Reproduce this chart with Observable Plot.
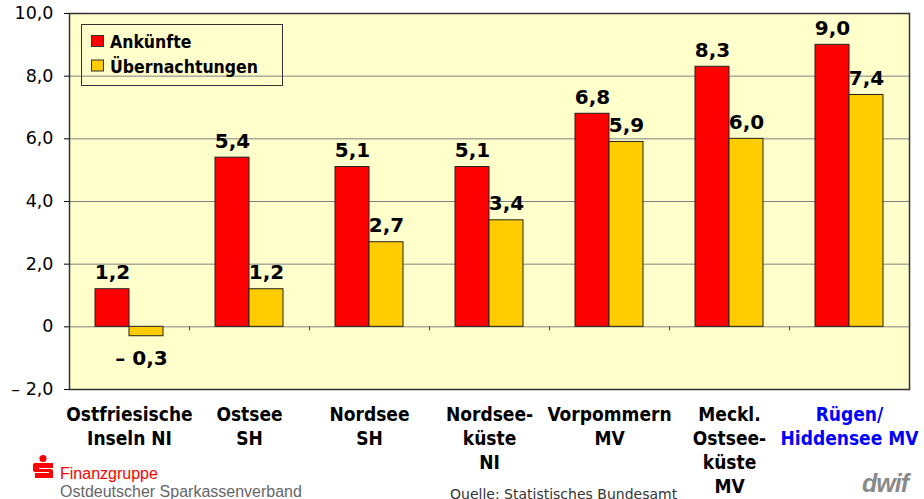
<!DOCTYPE html>
<html><head><meta charset="utf-8">
<script src="https://cdn.jsdelivr.net/npm/d3@7"></script>
<script src="https://cdn.jsdelivr.net/npm/@observablehq/plot@0.6"></script>
<style>
body{margin:0;background:#fff;}
#wrap{position:relative;width:924px;height:499px;overflow:hidden;}
</style></head><body><div id="wrap"></div>
<script>
const categories = ["Ostfriesische\nInseln NI", "Ostsee\nSH", "Nordsee\nSH", "Nordsee-\nküste\nNI", "Vorpommern\nMV", "Meckl.\nOstsee-\nküste\nMV", "Rügen/\nHiddensee MV"];
const ankuenfte = [1.2, 5.4, 5.1, 5.1, 6.8, 8.3, 9.0];
const uebernachtungen = [-0.3, 1.2, 2.7, 3.4, 5.9, 6.0, 7.4];
const seriesNames = ["Ankünfte", "Übernachtungen"];
const yTicks = [-2, 0, 2, 4, 6, 8, 10];
const gridTicks = [0, 2, 4, 6, 8];
const footerLeft = ["Finanzgruppe", "Ostdeutscher Sparkassenverband"];
const sourceText = "Quelle: Statistisches Bundesamt";

const fmt = v => v < 0 ? "– " + Math.abs(v).toFixed(1).replace(".", ",") : v === 0 ? "0" : v.toFixed(1).replace(".", ",");
const rowsA = categories.map((c, i) => ({cat: c, value: ankuenfte[i]}));
const rowsU = categories.map((c, i) => ({cat: c, value: uebernachtungen[i]}));
const COND = "'DejaVu Sans Condensed', 'DejaVu Sans', sans-serif";

const chart = Plot.plot({
  width: 924, height: 499,
  marginLeft: 69, marginRight: 15, marginTop: 13, marginBottom: 110,
  style: {background: "transparent", fontFamily: "'DejaVu Sans', sans-serif", overflow: "visible"},
  x: {domain: categories, padding: 0, axis: null},
  y: {domain: [-2, 10], axis: null},
  color: {type: "identity"},
  marks: [
    Plot.frame({fill: "#FFFFCC", stroke: null}),
    Plot.ruleY(gridTicks, {stroke: "#808080", strokeWidth: 1}),
    Plot.ruleX(categories.slice(1), {x: d => d, y1: 0, y2: -0.13, dx: -60, stroke: "#444"}),
    Plot.barY(rowsA, {x: "cat", y: "value", fill: "#FF0000", stroke: "#222", strokeWidth: 1, insetLeft: 26, insetRight: 60}),
    Plot.barY(rowsU, {x: "cat", y: "value", fill: "#FFCC00", stroke: "#222", strokeWidth: 1, insetLeft: 60, insetRight: 26}),
    Plot.text(rowsA, {x: "cat", y: "value", text: d => fmt(d.value), dx: -17, dy: -10, lineAnchor: "bottom", fontSize: 20, fontWeight: "bold", fill: "black"}),
    Plot.text(rowsU.filter(d => d.value >= 0), {x: "cat", y: "value", text: d => fmt(d.value), dx: 17, dy: -10, lineAnchor: "bottom", fontSize: 20, fontWeight: "bold", fill: "black"}),
    Plot.text(rowsU.filter(d => d.value < 0), {x: "cat", y: "value", text: d => fmt(d.value), dx: 12, dy: 15, lineAnchor: "top", fontSize: 20, fontWeight: "bold", fill: "black"}),
    Plot.text(categories, {x: d => d, frameAnchor: "bottom", lineAnchor: "top", dy: 15, lineHeight: 1.25, fontSize: 19, fontWeight: "bold", fontFamily: COND, fill: (d, i) => i === categories.length - 1 ? "#0000FF" : "black"}),
    Plot.axisY(yTicks, {tickSize: 5, tickPadding: 11, tickFormat: fmt, fontSize: 17.5, label: null}),
    Plot.frame({stroke: "#333", strokeWidth: 1.5})
  ]
});
document.getElementById("wrap").appendChild(chart);

const svg = d3.select(chart);
// Legend
const lg = svg.append("g").attr("text-anchor", "start");
lg.append("rect").attr("x", 81.5).attr("y", 24.5).attr("width", 201).attr("height", 61).attr("fill", "none").attr("stroke", "#333").attr("stroke-width", 1);
const swatchColors = ["#FF0000", "#FFCC00"];
seriesNames.forEach((s, i) => {
  lg.append("rect").attr("x", 91.5).attr("y", 35.5 + i * 24.5).attr("width", 12).attr("height", 11).attr("fill", swatchColors[i]).attr("stroke", "#333");
  lg.append("text").attr("x", 110).attr("y", 48 + i * 25).attr("font-family", COND).attr("font-weight", "bold").attr("font-size", 17.5).attr("fill", "black").text(s);
});
// Footer
const ft = svg.append("g").attr("text-anchor", "start");
ft.append("circle").attr("cx", 43).attr("cy", 458.5).attr("r", 3.6).attr("fill", "#FF0000");
ft.append("path").attr("d", "M35,463 H53 V468 H39 V469 H51 A2,2 0 0 1 53,471 V478 H35 V473 H49 V472 H35 A2,2 0 0 1 33,470 V465 A2,2 0 0 1 35,463 Z").attr("fill", "#FF0000");
ft.append("text").attr("x", 60).attr("y", 479).attr("font-family", "'Liberation Sans', sans-serif").attr("font-size", 16).attr("fill", "#FF0000").text(footerLeft[0]);
ft.append("text").attr("x", 60).attr("y", 497).attr("font-family", "'Liberation Sans', sans-serif").attr("font-size", 16).attr("fill", "#666").text(footerLeft[1]);
ft.append("text").attr("x", 450).attr("y", 499).attr("font-family", "'DejaVu Sans', sans-serif").attr("font-size", 14).attr("fill", "#333").text(sourceText);
ft.append("text").attr("x", 862).attr("y", 492).attr("font-family", "'Liberation Sans', sans-serif").attr("font-style", "italic").attr("font-weight", "bold").attr("font-size", 25).attr("letter-spacing", -1).attr("fill", "#8a8a8a").text("dwif");
</script></body></html>
